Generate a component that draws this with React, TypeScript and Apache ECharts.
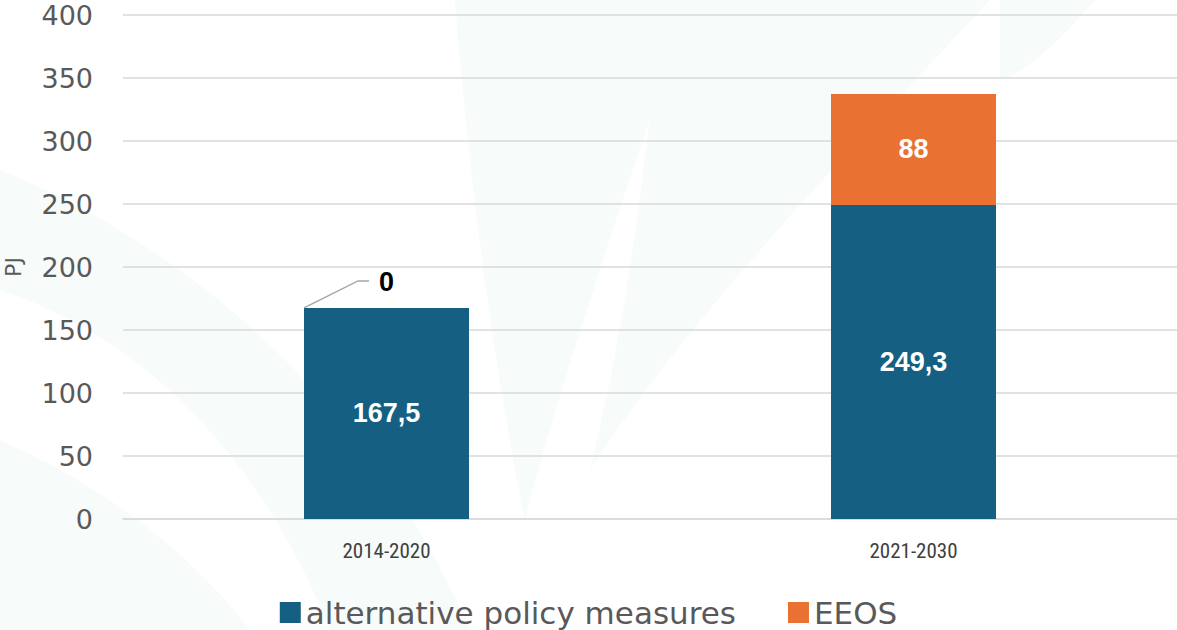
import React, { useEffect, useRef } from "react";
import * as echarts from "echarts";

const categories = ["2014-2020", "2021-2030"];
const altPolicy = [167.5, 249.3];
const eeos = [0, 88];
const seriesNames = ["alternative policy measures", "EEOS"];
const seriesColors = ["#156082", "#E97132"];
const yMin = 0;
const yMax = 400;
const yInterval = 50;
const yAxisName = "PJ";

const leafPaths: string[] = [
  "M 455 0 C 470 200 500 400 525 520 C 560 380 640 150 690 0 Z",
  "M 660 0 C 650 150 625 330 590 470 C 700 300 880 120 990 0 Z",
  "M 1000 0 L 1095 0 C 1060 40 1030 70 1000 80 Z",
  "M 0 170 L 0 290 C 120 330 250 430 330 630 L 470 630 C 380 420 200 250 0 170 Z",
  "M 0 440 L 0 630 L 250 630 C 180 540 90 480 0 440 Z",
];

leafPaths.forEach((d, i) => {
  echarts.graphic.registerShape("leaf" + i, echarts.graphic.extendPath(d, {}) as any);
});

const fmt = (v: number) => String(v).replace(".", ",");

export default function App() {
  const ref = useRef<HTMLDivElement>(null);
  useEffect(() => {
    if (!ref.current) return;
    const chart = echarts.init(ref.current, undefined, { renderer: "svg" });
    const BAR_W = 165;
    const labelFont = "'Liberation Sans', Arial, sans-serif";
    const bgGraphics = leafPaths.map((_, i) => ({
      type: "leaf" + i,
      x: 0,
      y: 0,
      z: -10,
      silent: true,
      style: { fill: "#f7fbfa" },
    }));
    chart.setOption({
      animation: false,
      backgroundColor: "#ffffff",
      grid: {
        left: 123,
        right: 0,
        top: 15,
        bottom: 111,
        containLabel: false,
        outerBoundsMode: "none",
      },
      legend: {
        data: seriesNames,
        top: 592,
        left: "center",
        itemWidth: 21,
        itemHeight: 21,
        itemGap: 52,
        icon: "rect",
        textStyle: {
          fontFamily: "'DejaVu Sans', sans-serif",
          fontSize: 31,
          color: "#595959",
        },
      },
      xAxis: {
        type: "category",
        data: categories,
        axisLine: { show: true, lineStyle: { color: "#d9d9d9", width: 1.5 } },
        axisTick: { show: false },
        axisLabel: {
          margin: 21,
          fontSize: 21,
          color: "#404040",
          fontFamily: "'Liberation Sans Narrow', 'Roboto Condensed', Roboto, sans-serif",
        },
      },
      yAxis: {
        type: "value",
        min: yMin,
        max: yMax,
        interval: yInterval,
        name: yAxisName,
        nameLocation: "middle",
        nameRotate: 90,
        nameGap: 99,
        nameTextStyle: {
          fontSize: 22,
          color: "#595959",
          fontFamily: "'DejaVu Sans', sans-serif",
        },
        axisLine: { show: false },
        axisTick: { show: false },
        axisLabel: {
          margin: 30,
          fontSize: 27,
          color: "#595959",
          fontFamily: "'DejaVu Sans', sans-serif",
        },
        splitLine: { lineStyle: { color: "#d9d9d9", width: 1.5 } },
      },
      series: [
        {
          name: seriesNames[0],
          type: "bar",
          stack: "total",
          barWidth: BAR_W,
          data: altPolicy,
          itemStyle: { color: seriesColors[0] },
          label: {
            show: true,
            position: "inside",
            color: "#ffffff",
            fontWeight: "bold",
            fontSize: 27,
            fontFamily: labelFont,
            formatter: (p: any) => fmt(p.value),
          },
        },
        {
          name: seriesNames[1],
          type: "bar",
          stack: "total",
          barWidth: BAR_W,
          data: eeos.map((v) =>
            v === 0
              ? { value: v, label: { color: "#000000" } }
              : { value: v }
          ),
          itemStyle: { color: seriesColors[1] },
          label: {
            show: true,
            position: "inside",
            color: "#ffffff",
            fontWeight: "bold",
            fontSize: 27,
            fontFamily: labelFont,
            formatter: (p: any) => fmt(p.value),
          },
          labelLayout: (p: any) => (p.dataIndex === 0 ? { dy: -26 } : {}),
        },
      ],
      graphic: bgGraphics,
    });

    // leader line for the zero-value label, placed via the chart's own scales
    const top = chart.convertToPixel({ gridIndex: 0 } as any, [0, altPolicy[0] + eeos[0]]) as number[];
    if (top && top.length === 2) {
      const left = top[0] - BAR_W / 2;
      const y = top[1];
      chart.setOption({
        graphic: [
          ...bgGraphics,
          {
            type: "polyline",
            silent: true,
            z: 10,
            shape: {
              points: [
                [left, y],
                [left + 54, y - 27],
                [left + 65, y - 27],
              ],
            },
            style: { stroke: "#a6a6a6", lineWidth: 1.5, fill: null },
          },
        ],
      });
    }

    return () => chart.dispose();
  }, []);
  return (
    <div
      ref={ref}
      style={{ position: "fixed", left: 0, top: 0, width: 1177, height: 630 }}
    />
  );
}
